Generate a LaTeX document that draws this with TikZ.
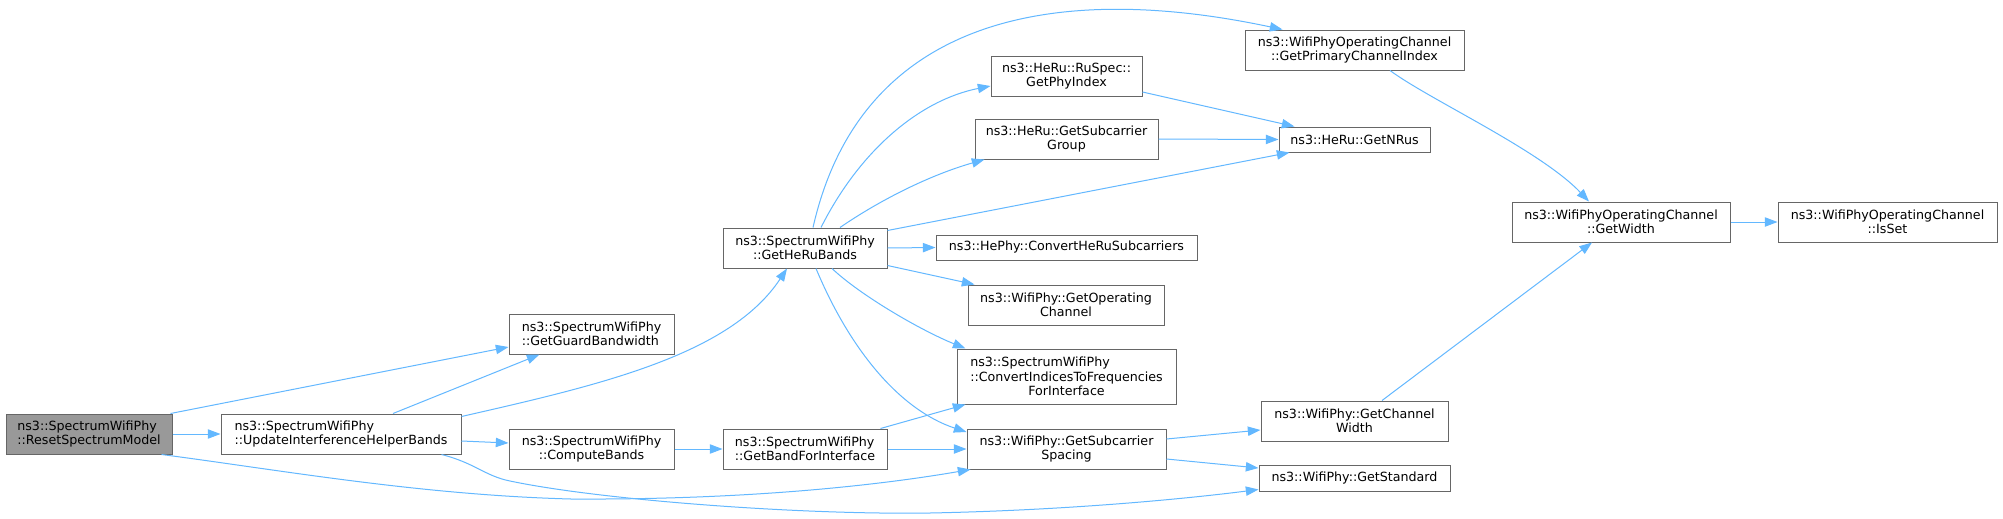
\documentclass[tikz,border=0pt]{standalone}
\usepackage{fontspec}
\setmainfont{DejaVu Sans}
\usepackage{calc}
\usetikzlibrary{arrows.meta,calc}
\definecolor{edgec}{HTML}{63B8FF}
\definecolor{bord}{HTML}{666666}
\definecolor{hl}{HTML}{999999}
\newcommand\fnode[6][]{\node[fn,#1,minimum width=#4*0.75pt,minimum height=#5*0.75pt] (#2) at (#3) {#6};}
\begin{document}
\begin{tikzpicture}[x=0.75pt,y=-0.75pt,
  fn/.style={draw=bord,line width=0.75pt,fill=white,inner sep=0pt,align=center,
    font=\fontsize{9.5pt}{10.7pt}\selectfont},
  edge/.style={draw=edgec,line width=0.75pt,-{Triangle[length=9.5pt,width=7pt]}}]
\useasboundingbox (0,0) rectangle (2003,518);
\fill[white] (0,0) rectangle (2003,518);
% nodes
\fnode[fill=hl,align=left]{reset}{89,434}{166}{40}{ns3::SpectrumWifiPhy\\::ResetSpectrumModel}
\fnode[align=left]{update}{341,434}{240}{40}{ns3::SpectrumWifiPhy\\::UpdateInterferenceHelperBands}
\fnode[align=left]{guard}{591.5,334}{165}{40}{ns3::SpectrumWifiPhy\\::GetGuardBandwidth}
\fnode{compute}{591.5,449}{165}{40}{ns3::SpectrumWifiPhy\\::ComputeBands}
\fnode{heru}{805,248}{164}{40}{ns3::SpectrumWifiPhy\\::GetHeRuBands}
\fnode[align=left]{band}{805,449}{164}{40}{ns3::SpectrumWifiPhy\\::GetBandForInterface}
\fnode{phyindex}{1066.5,76}{151}{40}{ns3::HeRu::RuSpec::\\GetPhyIndex}
\fnode{subgroup}{1066.5,139}{183}{40}{ns3::HeRu::GetSubcarrier\\Group}
\fnode{convheru}{1066.5,247.5}{261}{25}{ns3::HePhy::ConvertHeRuSubcarriers}
\fnode{opchan}{1066,305}{196}{40}{ns3::WifiPhy::GetOperating\\Channel}
\fnode{convidx}{1066.5,376.5}{219}{55}{\makebox[\widthof{::ConvertIndicesToFrequencies}][l]{ns3::SpectrumWifiPhy}\\::ConvertIndicesToFrequencies\\ForInterface}
\fnode{spacing}{1066.5,449}{199}{40}{ns3::WifiPhy::GetSubcarrier\\Spacing}
\fnode{primary}{1354.5,50}{219}{40}{ns3::WifiPhyOperatingChannel\\::GetPrimaryChannelIndex}
\fnode{nrus}{1354.5,139.5}{151}{25}{ns3::HeRu::GetNRus}
\fnode{chwidth}{1354.5,421}{187}{40}{ns3::WifiPhy::GetChannel\\Width}
\fnode{standard}{1354.5,478}{191}{26}{ns3::WifiPhy::GetStandard}
\fnode{width}{1621,222}{218}{40}{ns3::WifiPhyOperatingChannel\\::GetWidth}
\fnode{isset}{1887.5,222}{219}{40}{ns3::WifiPhyOperatingChannel\\::IsSet}
% edges
\draw[edge] ($(reset.north east)+(-2,0)$) -- ($(guard.west)+(0,13)$);
\draw[edge] (reset.east) -- (update.west);
\draw[edge] ($(reset.south east)+(-11,0)$) .. controls (280,470) and (420,495) .. (571,499) .. controls (750,500) and (880,485) .. ($(spacing.south west)+(4,0)$);
\draw[edge] ($(update.south east)+(-20,0)$) .. controls (475,463) and (485,476) .. (510,481) .. controls (600,500) and (800,515) .. (930,513) .. controls (1080,510) and (1200,497) .. ($(standard.south west)+(0,-2)$);
\draw[edge] ($(update.north)+(52,0)$) -- ($(guard.south)+(-52,0)$);
\draw[edge] ($(update.north east)+(0,3)$) .. controls (600,385) and (730,355) .. ($(heru.south)+(-18,0)$);
\draw[edge] ($(update.east)+(0,7)$) -- ($(compute.west)+(0,-6)$);
\draw[edge] (compute.east) -- (band.west);
\draw[edge] ($(band.north east)+(-7,0)$) -- ($(convidx.south west)+(9,0)$);
\draw[edge] (band.east) -- (spacing.west);
\draw[edge] ($(heru.north)+(8,0)$) .. controls (860,20) and (1050,-20) .. ($(primary.north west)+(38,0)$);
\draw[edge] ($(heru.north)+(16,0)$) .. controls (860,150) and (920,100) .. ($(phyindex.west)+(0,10)$);
\draw[edge] ($(heru.north)+(35,0)$) .. controls (880,200) and (930,175) .. ($(subgroup.south west)+(10,0)$);
\draw[edge] ($(heru.north east)+(0,3)$) -- ($(nrus.south west)+(11,0)$);
\draw[edge] (heru.east) -- (convheru.west);
\draw[edge] ($(heru.south east)+(0,-3)$) -- ($(opchan.north west)+(7,0)$);
\draw[edge] ($(heru.south)+(27,0)$) .. controls (860,295) and (920,330) .. ($(convidx.north west)+(9,0)$);
\draw[edge] ($(heru.south)+(11,0)$) .. controls (850,350) and (900,410) .. ($(spacing.west)+(0,-17)$);
\draw[edge] ($(phyindex.east)+(0,16)$) -- ($(nrus.north west)+(16,0)$);
\draw[edge] (subgroup.east) -- (nrus.west);
\draw[edge] ($(primary.south)+(35.5,0)$) .. controls (1430,100) and (1540,150) .. ($(width.north)+(-32,0)$);
\draw[edge] (width.east) -- (isset.west);
\draw[edge] ($(chwidth.north)+(27.5,0)$) -- ($(width.south)+(-29,0)$);
\draw[edge] ($(spacing.east)+(0,-10)$) -- ($(chwidth.west)+(0,9)$);
\draw[edge] ($(spacing.east)+(0,10)$) -- ($(standard.west)+(0,-10)$);
\end{tikzpicture}
\end{document}
